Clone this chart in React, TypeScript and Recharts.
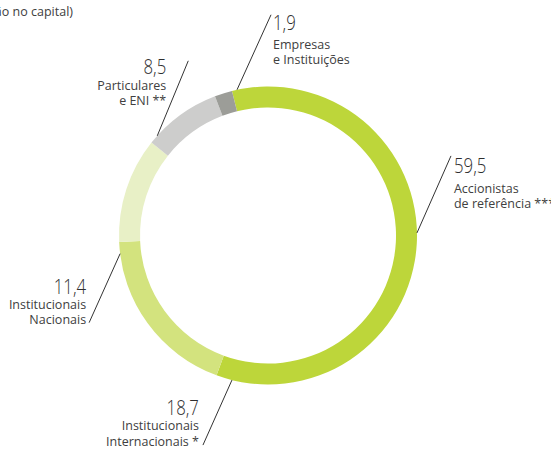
import React from 'react';
import { PieChart, Pie, Cell } from 'recharts';

// Estrutura accionista (% do capital)
const categories = ['Accionistas|de referência ***', 'Institucionais|Internacionais *', 'Institucionais|Nacionais', 'Particulares|e ENI **', 'Empresas|e Instituições'];
const shares = [59.5, 18.7, 11.4, 8.5, 1.9];
const colors = ['#bdd63a', '#d3e37e', '#e8f0c6', '#cdcdcc', '#9c9d98'];

const data = categories.map((name, i) => ({ name, value: shares[i] }));

const W = 551;
const H = 450;
const CX = 268;
const CY = 235.5;
const R_OUT = 149;
const R_IN = 128;
const FONT = "'Open Sans', sans-serif";

// where each leader line touches the ring (degrees clockwise from top), the line vector
// and where the text sits relative to the end of the line
const labelLayout = [
  { angle: 89, dx: 34, dy: -77, anchor: 'start', tx: 3, ty: 17, gap: 20 },
  { angle: 194, dx: -29, dy: 65, anchor: 'end', tx: -4, ty: -30, gap: 15 },
  { angle: 263, dx: -31, dy: 69, anchor: 'end', tx: -3, ty: -29, gap: 15 },
  { angle: 312, dx: 31, dy: -75, anchor: 'end', tx: -22, ty: 13, gap: 16 },
  { angle: 348, dx: 34, dy: -75, anchor: 'start', tx: 2, ty: 15, gap: 19 },
];

const numFmt = (v: number) => v.toFixed(1).replace('.', ',');

const renderLabel = (props: any) => {
  const { index } = props;
  const cx = typeof props.cx === 'number' ? props.cx : CX;
  const cy = typeof props.cy === 'number' ? props.cy : CY;
  const r = typeof props.outerRadius === 'number' ? props.outerRadius : R_OUT;
  const l = labelLayout[index];
  const a = (l.angle * Math.PI) / 180;
  const x1 = cx + r * Math.sin(a);
  const y1 = cy - r * Math.cos(a);
  const x2 = x1 + l.dx;
  const y2 = y1 + l.dy;
  const tx = x2 + l.tx;
  const ty = y2 + l.ty;
  const [line1, line2] = categories[index].split('|');
  return (
    <g key={'lbl' + index}>
      <line x1={x1} y1={y1} x2={x2} y2={y2} stroke="#333" strokeWidth={1} />
      <text
        x={0}
        y={0}
        transform={`translate(${tx},${ty}) scale(0.8,1)`}
        textAnchor={l.anchor}
        fill="#2e2e2e"
        fontSize={21}
        fontWeight={300}
        fontFamily={FONT}
      >
        {numFmt(shares[index])}
      </text>
      <text x={tx} y={ty + l.gap} textAnchor={l.anchor} fill="#404040" fontSize={12.5} fontFamily={FONT}>
        {line1}
      </text>
      <text x={tx} y={ty + l.gap + 15.5} textAnchor={l.anchor} fill="#404040" fontSize={12.5} fontFamily={FONT}>
        {line2}
      </text>
    </g>
  );
};

export default function App() {
  return (
    <div style={{ position: 'absolute', left: 0, top: 0, width: W, height: H, background: '#fff' }}>
      <PieChart width={W} height={H} margin={{ top: 0, right: 0, bottom: 0, left: 0 }}>
        <Pie
          data={data}
          dataKey="value"
          cx={CX}
          cy={CY}
          innerRadius={R_IN}
          outerRadius={R_OUT}
          startAngle={104}
          endAngle={-256}
          stroke="none"
          label={renderLabel}
          labelLine={false}
          isAnimationActive={false}
        >
          {data.map((d, i) => (
            <Cell key={d.name} fill={colors[i]} />
          ))}
        </Pie>
      </PieChart>
      <svg width={W} height={H} style={{ position: 'absolute', left: 0, top: 0, pointerEvents: 'none' }}>
        <text x={73} y={16} textAnchor="end" fill="#404040" fontSize={12.5} fontFamily={FONT}>
          (% de participação no capital)
        </text>
      </svg>
    </div>
  );
}
